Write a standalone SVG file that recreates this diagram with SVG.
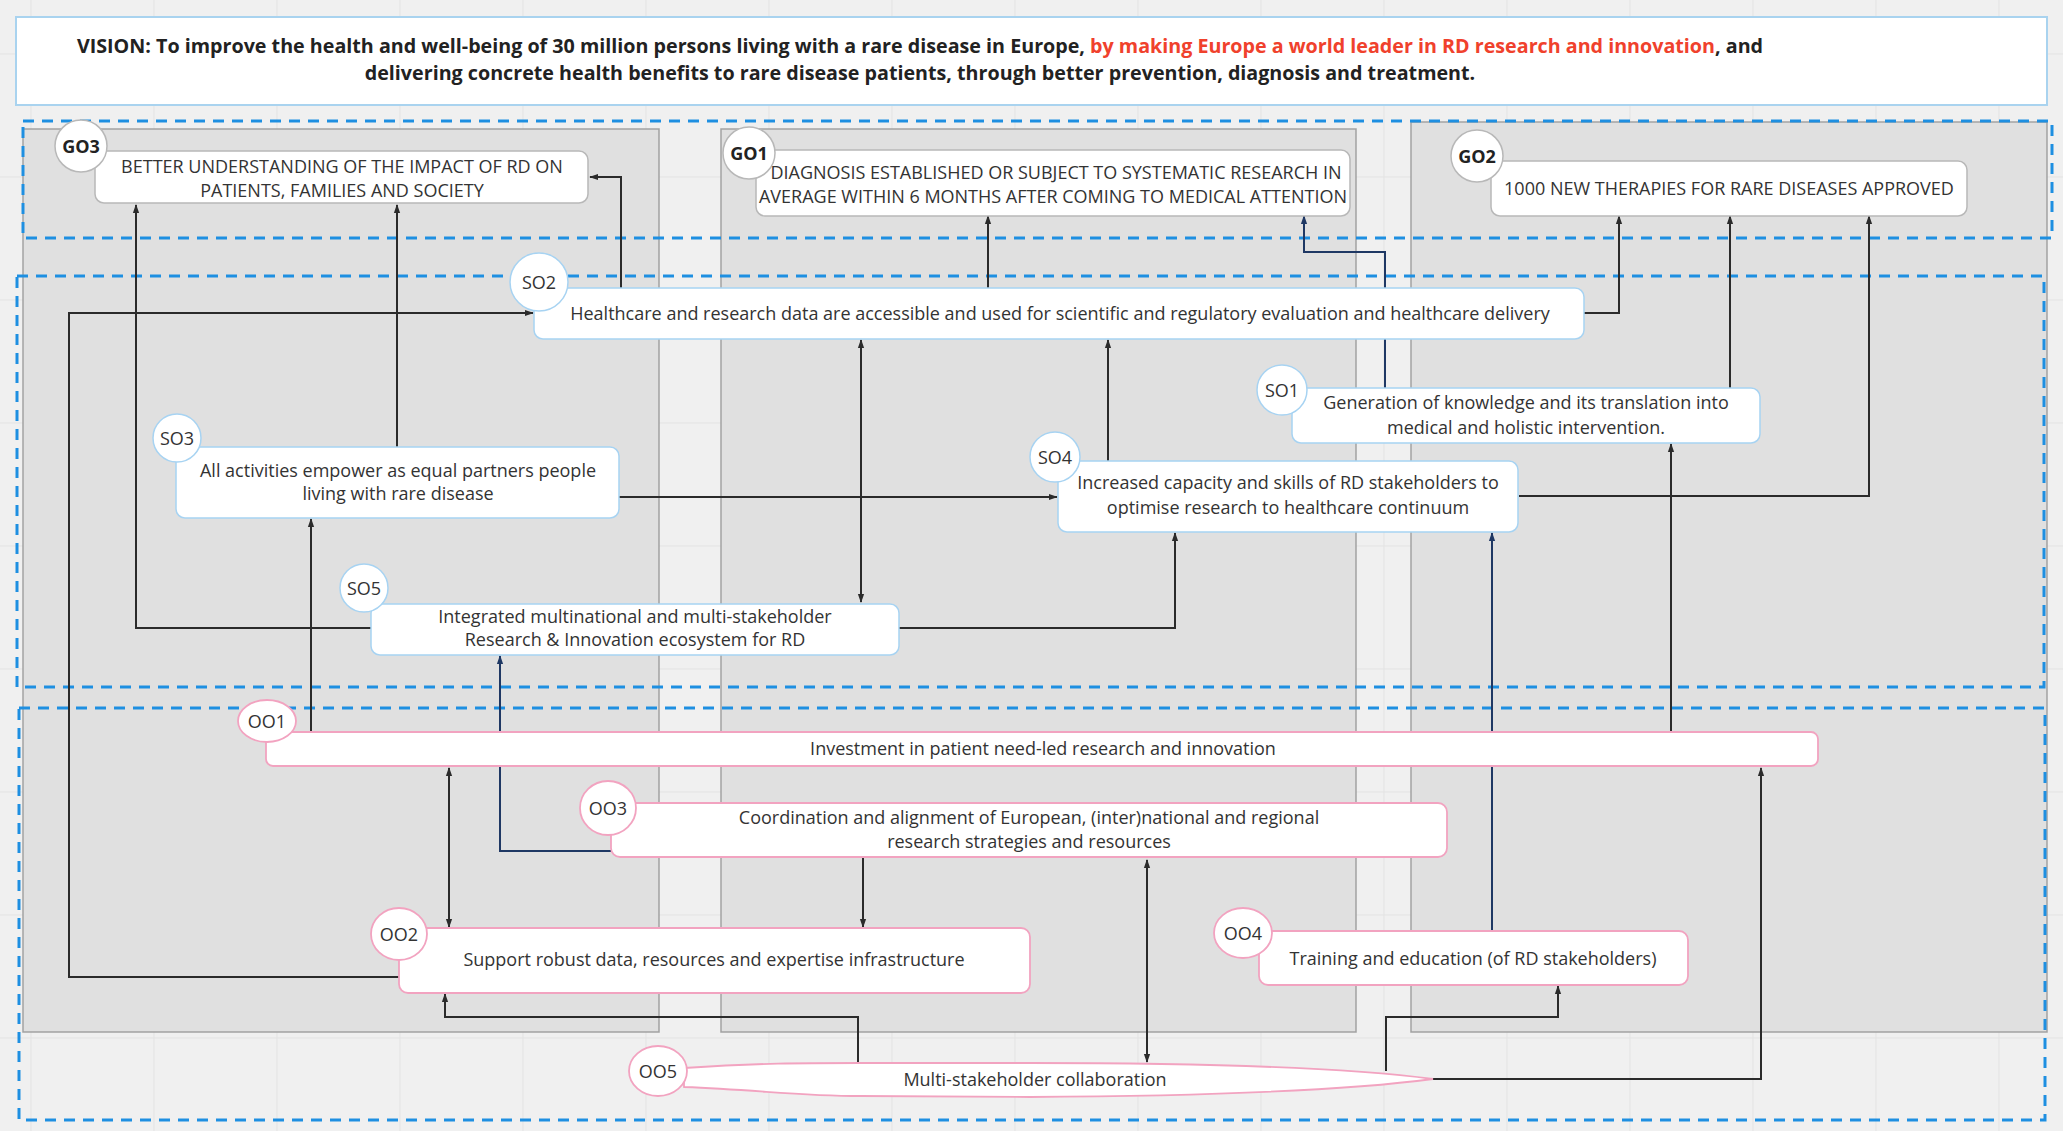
<svg xmlns="http://www.w3.org/2000/svg" width="2063" height="1131" viewBox="0 0 2063 1131">
<defs>
<style>
.lane{fill:#e0e0e0;stroke:#a2a2a2;stroke-width:1.5}
.band{fill:none;stroke:#1e8fe1;stroke-width:3;stroke-dasharray:11 8}
.go{fill:#fff;stroke:#b8b8b8;stroke-width:1.5}
.so{fill:#fff;stroke:#a7d3f2;stroke-width:1.5}
.oo{fill:#fff;stroke:#f2a3c0;stroke-width:1.8}
.t{font-family:'Open Sans','Liberation Sans',sans-serif;font-size:18px;fill:#333;text-anchor:middle;dominant-baseline:central}
.lb{font-family:'Open Sans','Liberation Sans',sans-serif;font-size:18px;fill:#333;text-anchor:middle;dominant-baseline:central}
.bold{font-weight:bold;fill:#222}
.v{font-family:'Open Sans','Liberation Sans',sans-serif;font-size:19.7px;font-weight:bold;fill:#222;text-anchor:middle;dominant-baseline:central}
.c{fill:none;stroke:#2b2b2b;stroke-width:2}
.n{fill:none;stroke:#1f3864;stroke-width:2}
.grid{stroke:#e3e3e3;stroke-width:1}
</style>
<marker id="a" viewBox="0 0 10 10" refX="9" refY="5" markerWidth="9" markerHeight="9" markerUnits="userSpaceOnUse" orient="auto-start-reverse"><path d="M0,1.5 L10,5 L0,8.5 z" fill="#2b2b2b"/></marker>
<marker id="an" viewBox="0 0 10 10" refX="9" refY="5" markerWidth="9" markerHeight="9" markerUnits="userSpaceOnUse" orient="auto-start-reverse"><path d="M0,1.5 L10,5 L0,8.5 z" fill="#1f3864"/></marker>
</defs>
<rect x="0" y="0" width="2063" height="1131" fill="#f0f0f0"/>
<g id="grid" class="grid">
<path d="M31,0V1131M154,0V1131M277,0V1131M400,0V1131M523,0V1131M646,0V1131M769,0V1131M892,0V1131M1015,0V1131M1138,0V1131M1261,0V1131M1384,0V1131M1507,0V1131M1630,0V1131M1753,0V1131M1876,0V1131M1999,0V1131"/>
<path d="M0,54H2063M0,177H2063M0,300H2063M0,423H2063M0,546H2063M0,669H2063M0,792H2063M0,915H2063M0,1038H2063"/>
</g>
<g id="vision">
<rect x="16" y="17" width="2031" height="88" fill="#fff" stroke="#a9d3ef" stroke-width="2"/>
<text class="v" x="920" y="45">VISION: To improve the health and well-being of 30 million persons living with a rare disease in Europe, <tspan fill="#f0412c">by making Europe a world leader in RD research and innovation</tspan>, and</text>
<text class="v" x="920" y="72">delivering concrete health benefits to rare disease patients, through better prevention, diagnosis and treatment.</text>
</g>
<g id="lanes">
<rect class="lane" x="23" y="129" width="636" height="903"/>
<rect class="lane" x="721" y="129" width="635" height="903"/>
<rect class="lane" x="1411" y="122" width="636" height="910"/>
</g>
<g id="bands">
<rect class="band" x="23" y="121" width="2029" height="117"/>
<rect class="band" x="17" y="276" width="2027" height="411"/>
<rect class="band" x="19" y="708" width="2026" height="412"/>
</g>
<g id="connectors">
<path class="c" d="M621,288 V177 H590" marker-end="url(#a)"/>
<path class="c" d="M371,628 H136 V205" marker-end="url(#a)"/>
<path class="c" d="M397,447 V205" marker-end="url(#a)"/>
<path class="c" d="M399,977 H69 V313 H533" marker-end="url(#a)"/>
<path class="c" d="M988,288 V216" marker-end="url(#a)"/>
<path class="n" d="M1385,388 V252 H1304 V216" marker-end="url(#an)"/>
<path class="c" d="M1584,313 H1619 V216" marker-end="url(#a)"/>
<path class="c" d="M1730,388 V216" marker-end="url(#a)"/>
<path class="c" d="M1519,496 H1869 V216" marker-end="url(#a)"/>
<path class="c" d="M619,497 H1057" marker-end="url(#a)"/>
<path class="c" d="M861,340 V602" marker-start="url(#a)" marker-end="url(#a)"/>
<path class="c" d="M1108,461 V340" marker-end="url(#a)"/>
<path class="c" d="M899,628 H1175 V533" marker-end="url(#a)"/>
<path class="c" d="M311,733 V519" marker-end="url(#a)"/>
<path class="n" d="M611,851 H500 V656" marker-end="url(#an)"/>
<path class="c" d="M449,768 V927" marker-start="url(#a)" marker-end="url(#a)"/>
<path class="c" d="M863,858 V927" marker-end="url(#a)"/>
<path class="c" d="M1147,860 V1062" marker-start="url(#a)" marker-end="url(#a)"/>
<path class="c" d="M858,1064 V1017 H445 V994" marker-end="url(#a)"/>
<path class="c" d="M1386,1071 V1017 H1558 V986" marker-end="url(#a)"/>
<path class="c" d="M1433,1079 H1761 V768" marker-end="url(#a)"/>
<path class="n" d="M1492,930 V533" marker-end="url(#an)"/>
<path class="c" d="M1671,733 V444" marker-end="url(#a)"/>
</g>
<g id="GO3">
<rect class="go" x="95" y="151" width="493" height="52" rx="9"/>
<circle class="go" cx="81" cy="146" r="26"/>
<text class="lb bold" x="81" y="146">GO3</text>
<text class="t" x="342" y="166">BETTER UNDERSTANDING OF THE IMPACT OF RD ON</text>
<text class="t" x="342" y="190">PATIENTS, FAMILIES AND SOCIETY</text>
</g>
<g id="GO1">
<rect class="go" x="756" y="150" width="594" height="66" rx="9"/>
<circle class="go" cx="749" cy="153" r="26"/>
<text class="lb bold" x="749" y="153">GO1</text>
<text class="t" x="1056" y="172">DIAGNOSIS ESTABLISHED OR SUBJECT TO SYSTEMATIC RESEARCH IN</text>
<text class="t" x="1053" y="196">AVERAGE WITHIN 6 MONTHS AFTER COMING TO MEDICAL ATTENTION</text>
</g>
<g id="GO2">
<rect class="go" x="1491" y="161" width="476" height="55" rx="9"/>
<circle class="go" cx="1477" cy="156" r="26"/>
<text class="lb bold" x="1477" y="156">GO2</text>
<text class="t" x="1729" y="188">1000 NEW THERAPIES FOR RARE DISEASES APPROVED</text>
</g>
<g id="SO2">
<rect class="so" x="534" y="288" width="1050" height="51" rx="9"/>
<circle class="so" cx="539" cy="282" r="29"/>
<text class="lb" x="539" y="282">SO2</text>
<text class="t" x="1060" y="313">Healthcare and research data are accessible and used for scientific and regulatory evaluation and healthcare delivery</text>
</g>
<g id="SO1">
<rect class="so" x="1292" y="388" width="468" height="55" rx="9"/>
<circle class="so" cx="1282" cy="390" r="25"/>
<text class="lb" x="1282" y="390">SO1</text>
<text class="t" x="1526" y="402">Generation of knowledge and its translation into</text>
<text class="t" x="1526" y="427">medical and holistic intervention.</text>
</g>
<g id="SO3">
<rect class="so" x="176" y="447" width="443" height="71" rx="9"/>
<circle class="so" cx="177" cy="438" r="24"/>
<text class="lb" x="177" y="438">SO3</text>
<text class="t" x="398" y="470">All activities empower as equal partners people</text>
<text class="t" x="398" y="493">living with rare disease</text>
</g>
<g id="SO4">
<rect class="so" x="1058" y="461" width="460" height="71" rx="9"/>
<circle class="so" cx="1055" cy="457" r="25"/>
<text class="lb" x="1055" y="457">SO4</text>
<text class="t" x="1288" y="482">Increased capacity and skills of RD stakeholders to</text>
<text class="t" x="1288" y="507">optimise research to healthcare continuum</text>
</g>
<g id="SO5">
<rect class="so" x="371" y="604" width="528" height="51" rx="9"/>
<circle class="so" cx="364" cy="588" r="24"/>
<text class="lb" x="364" y="588">SO5</text>
<text class="t" x="635" y="616">Integrated multinational and multi-stakeholder</text>
<text class="t" x="635" y="639">Research &amp; Innovation ecosystem for RD</text>
</g>
<g id="OO1">
<rect class="oo" x="266" y="732" width="1552" height="34" rx="7"/>
<ellipse class="oo" cx="267" cy="721" rx="29" ry="21"/>
<text class="lb" x="267" y="721">OO1</text>
<text class="t" x="1043" y="748">Investment in patient need-led research and innovation</text>
</g>
<g id="OO3">
<rect class="oo" x="611" y="803" width="836" height="54" rx="9"/>
<ellipse class="oo" cx="608" cy="808" rx="28" ry="27"/>
<text class="lb" x="608" y="808">OO3</text>
<text class="t" x="1029" y="817">Coordination and alignment of European, (inter)national and regional</text>
<text class="t" x="1029" y="841">research strategies and resources</text>
</g>
<g id="OO2">
<rect class="oo" x="399" y="928" width="631" height="65" rx="9"/>
<ellipse class="oo" cx="399" cy="934" rx="28" ry="26"/>
<text class="lb" x="399" y="934">OO2</text>
<text class="t" x="714" y="959">Support robust data, resources and expertise infrastructure</text>
</g>
<g id="OO4">
<rect class="oo" x="1259" y="931" width="429" height="54" rx="9"/>
<ellipse class="oo" cx="1243" cy="933" rx="29" ry="25"/>
<text class="lb" x="1243" y="933">OO4</text>
<text class="t" x="1473" y="958">Training and education (of RD stakeholders)</text>
</g>
<g id="OO5">
<path class="oo" d="M684,1068 C760,1063 800,1063 860,1063 L1030,1063 C1200,1063 1350,1068 1433,1079 C1350,1090 1200,1096 1030,1097 L860,1096 C800,1096 760,1090 684,1087 Z"/>
<ellipse class="oo" cx="658" cy="1071" rx="29" ry="25"/>
<text class="lb" x="658" y="1071">OO5</text>
<text class="t" x="1035" y="1079">Multi-stakeholder collaboration</text>
</g>
</svg>
